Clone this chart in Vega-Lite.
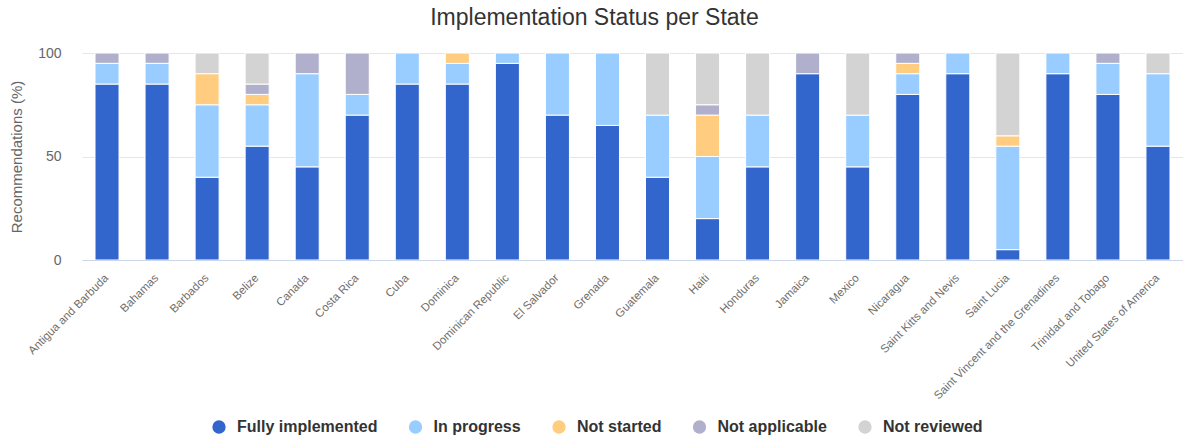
{
  "$schema": "https://vega.github.io/schema/vega-lite/v6.json",
  "autosize": {"type": "none"},
  "padding": {"left": 82, "top": 53, "right": 0, "bottom": 182},
  "width": 1101,
  "height": 207,
  "background": "white",
  "title": {
    "text": "Implementation Status per State",
    "fontSize": 23,
    "fontWeight": "normal",
    "color": "#333333",
    "anchor": "middle",
    "dx": -38,
    "offset": 16
  },
  "data": {
    "values": [
      {"State": "Antigua and Barbuda", "Fully implemented": 85, "In progress": 10, "Not started": 0, "Not applicable": 5, "Not reviewed": 0},
      {"State": "Bahamas", "Fully implemented": 85, "In progress": 10, "Not started": 0, "Not applicable": 5, "Not reviewed": 0},
      {"State": "Barbados", "Fully implemented": 40, "In progress": 35, "Not started": 15, "Not applicable": 0, "Not reviewed": 10},
      {"State": "Belize", "Fully implemented": 55, "In progress": 20, "Not started": 5, "Not applicable": 5, "Not reviewed": 15},
      {"State": "Canada", "Fully implemented": 45, "In progress": 45, "Not started": 0, "Not applicable": 10, "Not reviewed": 0},
      {"State": "Costa Rica", "Fully implemented": 70, "In progress": 10, "Not started": 0, "Not applicable": 20, "Not reviewed": 0},
      {"State": "Cuba", "Fully implemented": 85, "In progress": 15, "Not started": 0, "Not applicable": 0, "Not reviewed": 0},
      {"State": "Dominica", "Fully implemented": 85, "In progress": 10, "Not started": 5, "Not applicable": 0, "Not reviewed": 0},
      {"State": "Dominican Republic", "Fully implemented": 95, "In progress": 5, "Not started": 0, "Not applicable": 0, "Not reviewed": 0},
      {"State": "El Salvador", "Fully implemented": 70, "In progress": 30, "Not started": 0, "Not applicable": 0, "Not reviewed": 0},
      {"State": "Grenada", "Fully implemented": 65, "In progress": 35, "Not started": 0, "Not applicable": 0, "Not reviewed": 0},
      {"State": "Guatemala", "Fully implemented": 40, "In progress": 30, "Not started": 0, "Not applicable": 0, "Not reviewed": 30},
      {"State": "Haiti", "Fully implemented": 20, "In progress": 30, "Not started": 20, "Not applicable": 5, "Not reviewed": 25},
      {"State": "Honduras", "Fully implemented": 45, "In progress": 25, "Not started": 0, "Not applicable": 0, "Not reviewed": 30},
      {"State": "Jamaica", "Fully implemented": 90, "In progress": 0, "Not started": 0, "Not applicable": 10, "Not reviewed": 0},
      {"State": "Mexico", "Fully implemented": 45, "In progress": 25, "Not started": 0, "Not applicable": 0, "Not reviewed": 30},
      {"State": "Nicaragua", "Fully implemented": 80, "In progress": 10, "Not started": 5, "Not applicable": 5, "Not reviewed": 0},
      {"State": "Saint Kitts and Nevis", "Fully implemented": 90, "In progress": 10, "Not started": 0, "Not applicable": 0, "Not reviewed": 0},
      {"State": "Saint Lucia", "Fully implemented": 5, "In progress": 50, "Not started": 5, "Not applicable": 0, "Not reviewed": 40},
      {"State": "Saint Vincent and the Grenadines", "Fully implemented": 90, "In progress": 10, "Not started": 0, "Not applicable": 0, "Not reviewed": 0},
      {"State": "Trinidad and Tobago", "Fully implemented": 80, "In progress": 15, "Not started": 0, "Not applicable": 5, "Not reviewed": 0},
      {"State": "United States of America", "Fully implemented": 55, "In progress": 35, "Not started": 0, "Not applicable": 0, "Not reviewed": 10}
    ]
  },
  "transform": [
    {"fold": ["Fully implemented", "In progress", "Not started", "Not applicable", "Not reviewed"], "as": ["Status", "Value"]},
    {"window": [{"op": "row_number", "as": "StackRank"}], "groupby": ["State"]},
    {"filter": "datum.Value > 0"}
  ],
  "mark": {"type": "bar", "stroke": "white", "strokeWidth": 1},
  "encoding": {
    "x": {
      "field": "State",
      "type": "nominal",
      "sort": null,
      "scale": {"paddingInner": 0.52, "paddingOuter": 0.26},
      "axis": {
        "title": null,
        "labelAngle": -45,
        "labelAlign": "right",
        "labelBaseline": "middle",
        "labelFontSize": 11.5,
        "labelColor": "#6e6e6e",
        "labelPadding": 16,
        "labelLimit": 300,
        "ticks": false,
        "domainColor": "#ccd6eb",
        "domainWidth": 1,
        "zindex": 1
      }
    },
    "y": {
      "field": "Value",
      "type": "quantitative",
      "stack": "zero",
      "scale": {"domain": [0, 100], "nice": false},
      "axis": {
        "title": "Recommendations (%)",
        "titleFontSize": 15,
        "titleFontWeight": "normal",
        "titleColor": "#666666",
        "titlePadding": 13,
        "values": [0, 50, 100],
        "labelFontSize": 14,
        "labelColor": "#666666",
        "labelPadding": 21,
        "ticks": false,
        "domain": false,
        "gridColor": "#e6e6e6",
        "gridWidth": 1
      }
    },
    "color": {
      "field": "Status",
      "type": "nominal",
      "scale": {
        "domain": ["Fully implemented", "In progress", "Not started", "Not applicable", "Not reviewed"],
        "range": ["#3366cc", "#99ccff", "#ffcc80", "#b0b0cc", "#d3d3d3"]
      },
      "legend": {
        "title": null,
        "orient": "none",
        "direction": "horizontal",
        "columns": 5,
        "legendX": 129,
        "legendY": 366,
        "padding": 0,
        "symbolType": "circle",
        "symbolSize": 177,
        "symbolStrokeWidth": 0,
        "symbolOpacity": 1,
        "labelFontSize": 16,
        "labelFontWeight": "bold",
        "labelColor": "#333333",
        "labelOffset": 10,
        "columnPadding": 29.5,
        "labelLimit": 300
      }
    },
    "order": {"field": "StackRank", "type": "quantitative", "sort": "ascending"}
  },
  "config": {
    "font": "Liberation Sans",
    "view": {"stroke": null}
  }
}
